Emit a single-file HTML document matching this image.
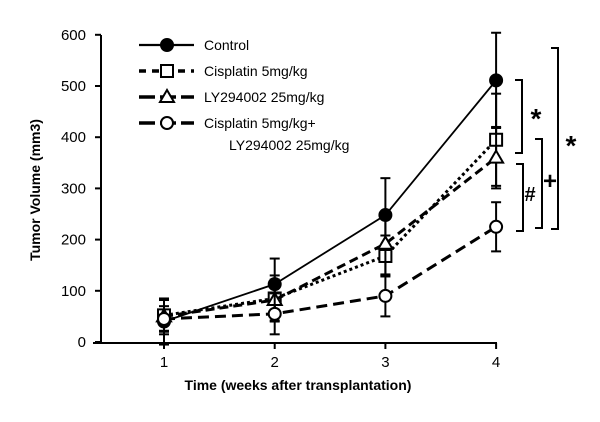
<!DOCTYPE html>
<html><head><meta charset="utf-8"><style>
body{margin:0;background:#fff}
svg{font-family:"Liberation Sans",sans-serif;display:block}
</style></head><body>
<svg id="c" width="600" height="422"></svg>
<script>
const weeks=[1,2,3,4];
const control=[40,113,248,511];
const controlErr=[45,50,72,93];
const cisplatin=[52,85,168,395];
const cisplatinErr=[30,45,40,90];
const ly=[50,82,192,360];
const lyErr=[35,40,60,60];
const combo=[45,55,90,225];
const comboErr=[25,40,40,48];
const yTicks=[0,100,200,300,400,500,600];
const xTicks=[1,2,3,4];
const NS="http://www.w3.org/2000/svg";
const svg=document.getElementById('c');
function X(v){return 164+(v-1)*110.7;}
function Y(v){return 342-v*0.512;}
function el(t,a,p){const e=document.createElementNS(NS,t);for(const k in a)e.setAttribute(k,a[k]);(p||svg).appendChild(e);return e;}
let e;
e=el('line',{x1:101,y1:35,x2:101,y2:343,stroke:'#000','stroke-width':2});


e=el('line',{x1:93,y1:343,x2:497,y2:343,stroke:'#000','stroke-width':2});


yTicks.forEach(t=>{
 el('line',{x1:95,y1:Y(t),x2:101,y2:Y(t),stroke:'#000','stroke-width':2});
 e=el('text',{x:86,y:Y(t)+5,'text-anchor':'end','font-size':15});e.textContent=t;
 
 
});
xTicks.forEach(t=>{
 el('line',{x1:X(t),y1:343,x2:X(t),y2:349,stroke:'#000','stroke-width':2});
 e=el('text',{x:X(t),y:367,'text-anchor':'middle','font-size':15});e.textContent=t;
 
 
});
e=el('text',{x:298,y:390,'text-anchor':'middle','font-size':14,'font-weight':'bold'});e.textContent='Time (weeks after transplantation)';


e=el('text',{x:0,y:0,'text-anchor':'middle','font-size':14,'font-weight':'bold',transform:'translate(40,190) rotate(-90)'});e.textContent='Tumor Volume (mm3)';


const series=[
 {name:'control',v:control,err:controlErr,dash:'',w:1.8,m:'circle',fill:'#000'},
 {name:'cisplatin',v:cisplatin,err:cisplatinErr,dash:'3,3',w:3,m:'square',fill:'#fff'},
 {name:'ly294002',v:ly,err:lyErr,dash:'9,5',w:3,m:'tri',fill:'#fff'},
 {name:'combination',v:combo,err:comboErr,dash:'11,6',w:3,m:'circle',fill:'#fff'}];
function marker(m,x,y,fill,g){
 if(m==='circle')return el('circle',{cx:x,cy:y,r:6,fill:fill,stroke:'#000','stroke-width':2},g);
 if(m==='square')return el('rect',{x:x-6,y:y-6,width:12,height:12,fill:fill,stroke:'#000','stroke-width':2},g);
 return el('polygon',{points:`${x},${y-7} ${x-7},${y+5} ${x+7},${y+5}`,fill:fill,stroke:'#000','stroke-width':2},g);
}
series.forEach(s=>{
 const g=el('g',{});
 
 
 s.v.forEach((v,i)=>{
  const x=X(weeks[i]);
  el('line',{x1:x,y1:Y(v+s.err[i]),x2:x,y2:Y(v-s.err[i]),stroke:'#000','stroke-width':2},g);
  el('line',{x1:x-5,y1:Y(v+s.err[i]),x2:x+5,y2:Y(v+s.err[i]),stroke:'#000','stroke-width':2},g);
  el('line',{x1:x-5,y1:Y(v-s.err[i]),x2:x+5,y2:Y(v-s.err[i]),stroke:'#000','stroke-width':2},g);
 });
 const p=el('polyline',{points:s.v.map((v,i)=>X(weeks[i])+','+Y(v)).join(' '),fill:'none',stroke:'#000','stroke-width':s.w,'stroke-dasharray':s.dash},g);
 
 
 s.v.forEach((v,i)=>{
  const mk=marker(s.m,X(weeks[i]),Y(v),s.fill,g);
  
  
 });
});
// legend
const labels=['Control','Cisplatin 5mg/kg','LY294002 25mg/kg','Cisplatin 5mg/kg+'];
series.forEach((s,i)=>{
 const y=45+i*26;
 const g=el('g',{});
 
 
 el('line',{x1:139,y1:y,x2:194,y2:y,stroke:'#000','stroke-width':s.w+0.5,'stroke-dasharray':s.dash?(i===1?'7,6':'16,5'):''},g);
 marker(s.m,167,y,s.fill,g);
 const t=el('text',{x:204,y:y+5,'font-size':14},g);t.textContent=labels[i];
});
e=el('text',{x:229,y:150,'font-size':14});e.textContent='LY294002 25mg/kg';


// significance brackets
function bracket(x,y1,y2,sym,sx,sy,name,fs){
 const g=el('g',{});
 
 
 el('polyline',{points:`${x-7},${y1} ${x},${y1} ${x},${y2} ${x-7},${y2}`,fill:'none',stroke:'#000','stroke-width':2},g);
 const t=el('text',{x:sx,y:sy,'font-size':fs,'font-weight':'bold','text-anchor':'middle'},g);t.textContent=sym;
}
bracket(522,80,153,'*',536,128,'bracket-star-1',28);
bracket(523,164,231,'#',530,201,'bracket-hash',20);
bracket(542,139,228,'+',550,189,'bracket-plus',24);
bracket(558,48,229,'*',571,155,'bracket-star-2',28);
</script>
</body></html>
